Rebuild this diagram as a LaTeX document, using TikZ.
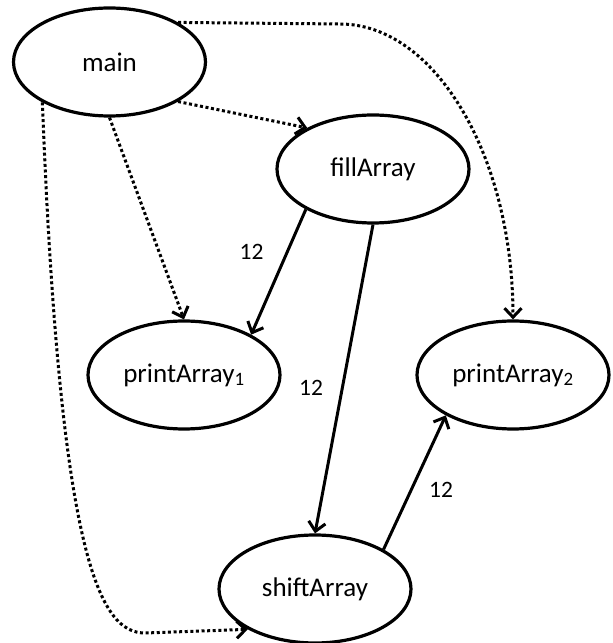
\documentclass[tikz,border=0pt]{standalone}
\usepackage{fontspec}
\setmainfont{Carlito}
\usetikzlibrary{shapes.geometric,arrows.meta}
\begin{document}
\begin{tikzpicture}[x=1pt,y=1pt,
  fn/.style={ellipse,draw,line width=3.2pt,minimum width=192pt,minimum height=108pt,inner sep=0pt,font=\fontsize{27}{32}\selectfont},
  lbl/.style={font=\fontsize{23.5}{28}\selectfont,inner sep=0pt},
  tip/.style={-{Straight Barb[length=9pt,width=17pt]}},
  call/.style={tip,line width=3pt,dash pattern=on 3pt off 2.6pt},
  data/.style={tip,line width=3pt}]
\useasboundingbox (0,0) rectangle (613,643);
\node[fn] (main) at (109.5,581) {main};
\node[fn] (fill) at (373,474) {fillArray};
\node[fn] (p1) at (184,268) {printArray\textsubscript{1}};
\node[fn] (p2) at (513,268) {printArray\textsubscript{2}};
\node[fn] (shift) at (315,54) {shiftArray};
\coordinate (c1) at (145,10);
\coordinate (c2) at (340,619);
% calls (dotted)
\draw[call] (main.-30.6) -- (fill.148.9);
\draw[call] (main.-90) -- (p1.90);
\draw[call] (main.211) .. controls (60,83) and (100,10) .. (c1) -- (shift.211);
\draw[call] (main.30) -- (c2) .. controls (435,619) and (513,487) .. (p2.90);
% data flow (solid)
\draw[data] (fill.211.8) -- (p1.31.3);
\draw[data] (fill.-90) -- (shift.90);
\draw[data] (shift.30.5) -- (p2.211);
% labels
\node[lbl] (l1) at (251.5,391) {12};
\node[lbl] (l2) at (311,255) {12};
\node[lbl] (l3) at (441,153) {12};
\end{tikzpicture}
\end{document}
